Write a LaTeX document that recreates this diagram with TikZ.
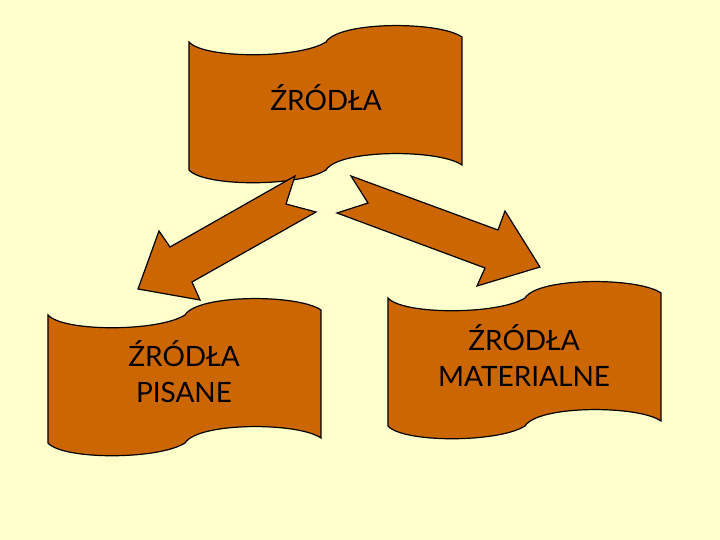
\documentclass[tikz,border=0pt]{standalone}
\usepackage{fontspec}
\setmainfont{Lato}
\definecolor{paper}{HTML}{FFFFCC}
\definecolor{rust}{HTML}{CC6600}
\tikzset{
    ribbon/.style={fill=rust, draw=black, line width=0.6pt},
    caption/.style={align=center, text=black, font=\fontsize{14}{18}\selectfont},
    pics/tape/.style={code={
        \draw[ribbon] (0,0) .. controls (15,17) and (110,17) .. (137,0)
            .. controls (150,-21) and (250,-21) .. (273,-5)
            -- (273,123) .. controls (250,107) and (150,107) .. (137,128)
            .. controls (110,145) and (15,145) .. (0,128) -- cycle;
    }}
}

\begin{document}
\begin{tikzpicture}[x=0.5pt, y=-0.5pt]
            \useasboundingbox (0,0) rectangle (720,540);
            \fill[paper] (0,0) rectangle (720,540);
            \begin{scope}
                % ribbons
                \pic (top) at (189,42) {tape};
                \pic (left) at (48,315) {tape};
                \pic (right) at (388,298) {tape};
                % block arrows
                \draw[ribbon] (295,176) -- (286,204) -- (316,212) -- (192,282)
                    -- (200,300) -- (138,289) -- (159,231) -- (170,247) -- cycle;
                \draw[ribbon] (351,176) -- (368,203) -- (337,213) -- (485,268)
                    -- (477,286) -- (540,267) -- (505,211) -- (498,230) -- cycle;
                % labels
                \node[caption] (zrodla) at (326,98) {ŹRÓDŁA};
                \node[caption] (pisane) at (184,372) {ŹRÓDŁA\\PISANE};
                \node[caption] (material) at (524,356) {ŹRÓDŁA\\MATERIALNE};
            \end{scope}
        \end{tikzpicture}
\end{document}
